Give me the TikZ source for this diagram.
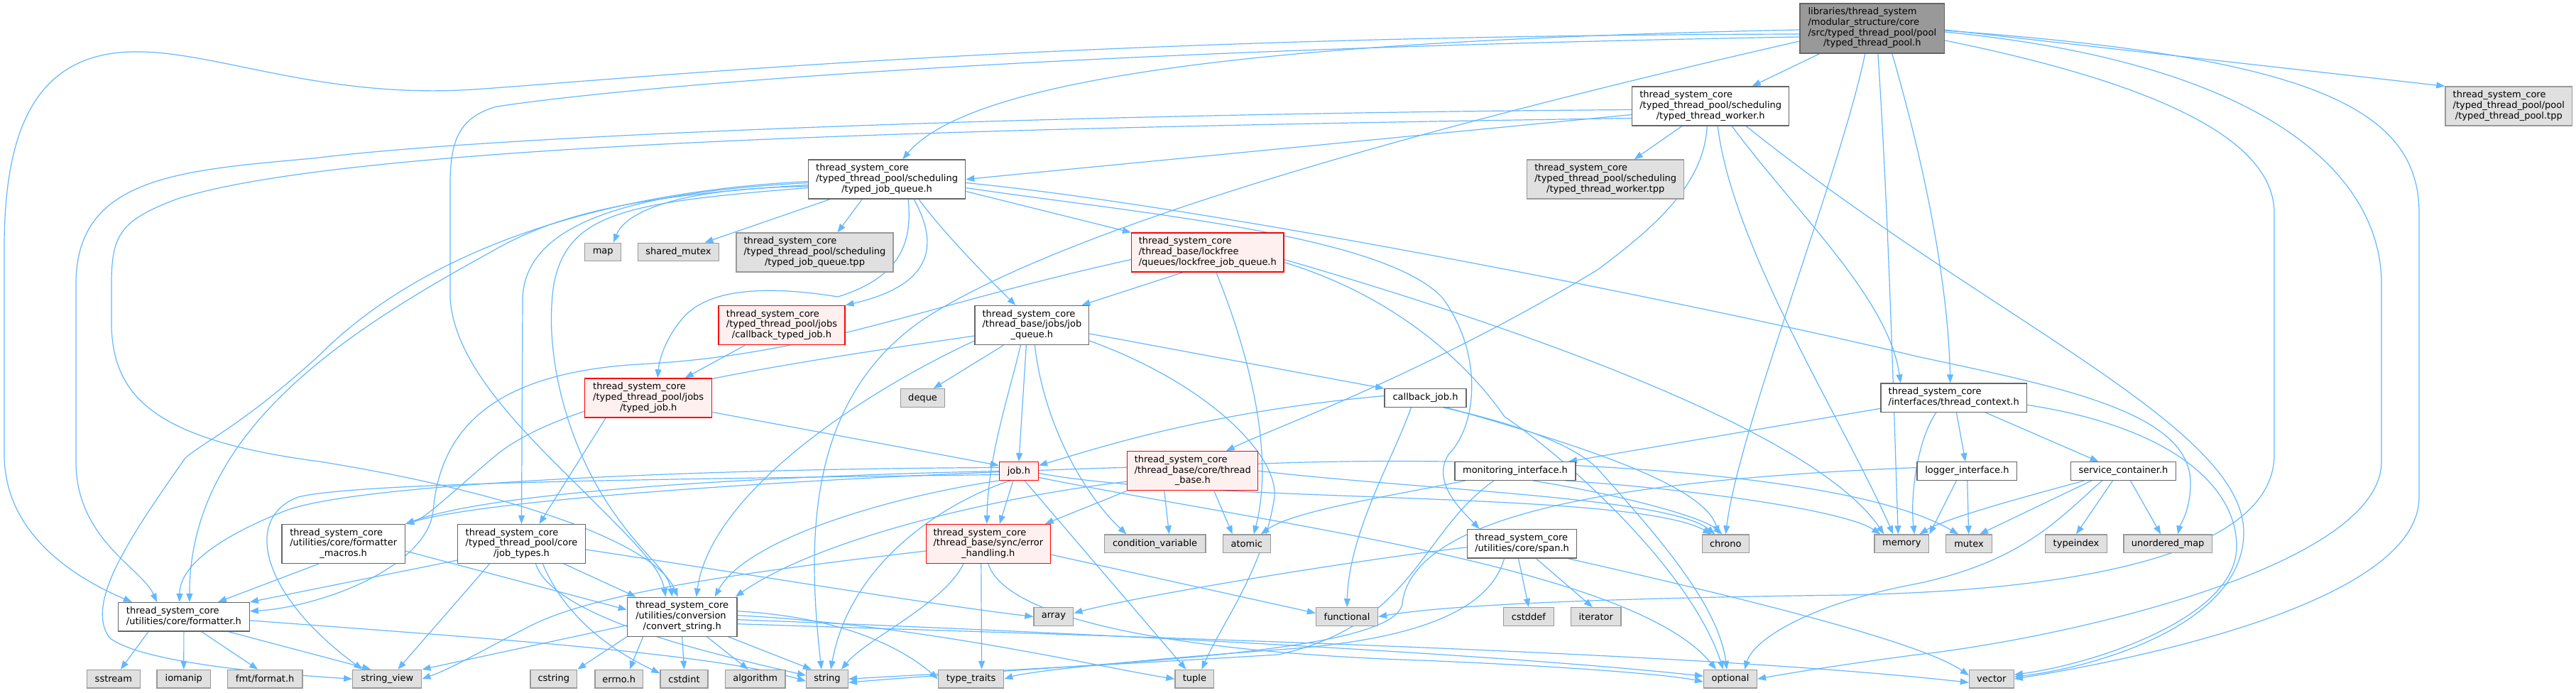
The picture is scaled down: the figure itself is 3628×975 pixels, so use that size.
\documentclass[tikz,border=0pt]{standalone}
\usepackage{fontspec}
\newfontfamily\dvs{DejaVu Sans}
\usetikzlibrary{arrows.meta}
\definecolor{edgec}{HTML}{63B8FF}
\definecolor{gsix}{HTML}{666666}
\definecolor{gnine}{HTML}{999999}
\definecolor{gext}{HTML}{E0E0E0}
\definecolor{rfill}{HTML}{FFF0F0}
\newcommand\twoL[2]{\begin{tabular}{@{}l@{}}#1\\\multicolumn{1}{@{}c@{}}{#2}\end{tabular}}
\newcommand\threeL[3]{\begin{tabular}{@{}l@{}}#1\\#2\\\multicolumn{1}{@{}c@{}}{#3}\end{tabular}}
\newcommand\fourL[4]{\begin{tabular}{@{}l@{}}#1\\#2\\#3\\\multicolumn{1}{@{}c@{}}{#4}\end{tabular}}
\pgfdeclarelayer{bg}
\pgfdeclarelayer{edges}
\pgfsetlayers{bg,edges,main}
\begin{document}
\begin{tikzpicture}[x=1pt,y=-1pt,
  nb/.style={draw=gsix, fill=white, line width=1.3pt, inner sep=0pt, font={\dvs\fontsize{13}{14.7}\selectfont}},
  xb/.style={nb, draw=gnine, fill=gext},
  rb/.style={nb, draw=red, fill=rfill},
  rootb/.style={nb, fill=gnine},
  bw/.style={minimum width=#1pt},
  bh/.style={minimum height=#1pt},
  dep/.style={draw=edgec, line width=1.2pt, -{Triangle[length=12pt,width=9pt]}}]
\begin{pgfonlayer}{bg}
\fill[white] (0,0) rectangle (3628,975);
\end{pgfonlayer}
\useasboundingbox (0,0) rectangle (3628,975);

% ---------- nodes ----------
\node[rootb,bw=203.5,bh=70] (root) at (2636.8,40) {\fourL{libraries/thread\_system}{/modular\_structure/core}{/src/typed\_thread\_pool/pool}{/typed\_thread\_pool.h}};
\node[nb,bw=221,bh=55] (ttw) at (2409.2,149.5) {\threeL{thread\_system\_core}{/typed\_thread\_pool/scheduling}{/typed\_thread\_worker.h}};
\node[xb,bw=178.6,bh=55] (ttptpp) at (3533.3,149.5) {\threeL{thread\_system\_core}{/typed\_thread\_pool/pool}{/typed\_thread\_pool.tpp}};
\node[nb,bw=221,bh=55] (tjq) at (1249.1,252.5) {\threeL{thread\_system\_core}{/typed\_thread\_pool/scheduling}{/typed\_job\_queue.h}};
\node[xb,bw=221,bh=55] (ttwtpp) at (2261.2,252.5) {\threeL{thread\_system\_core}{/typed\_thread\_pool/scheduling}{/typed\_thread\_worker.tpp}};
\node[xb,bw=51,bh=25.6] (map) at (849.2,355) {map};
\node[xb,bw=114,bh=25.6] (shmutex) at (955.5,355) {shared\_mutex};
\node[xb,bw=221,bh=55] (tjqtpp) at (1147.5,355.5) {\threeL{thread\_system\_core}{/typed\_thread\_pool/scheduling}{/typed\_job\_queue.tpp}};
\node[rb,bw=214.4,bh=55] (lfjq) at (1700.8,355.5) {\threeL{thread\_system\_core}{/thread\_base/lockfree}{/queues/lockfree\_job\_queue.h}};
\node[rb,bw=178,bh=55] (ctj) at (1101,458) {\threeL{thread\_system\_core}{/typed\_thread\_pool/jobs}{/callback\_typed\_job.h}};
\node[nb,bw=160.8,bh=55] (jq) at (1453.4,458) {\threeL{thread\_system\_core}{/thread\_base/jobs/job}{\_queue.h}};
\node[rb,bw=179,bh=55] (tj) at (913.2,560.5) {\threeL{thread\_system\_core}{/typed\_thread\_pool/jobs}{/typed\_job.h}};
\node[xb,bw=62,bh=25.6] (deque) at (1299.6,560.5) {deque};
\node[nb,bw=115,bh=25.6] (cbj) at (2007.5,560.5) {callback\_job.h};
\node[nb,bw=205.5,bh=40.5] (tctx) at (2751.7,560.3) {\twoL{thread\_system\_core}{/interfaces/thread\_context.h}};
\node[rb,bw=55,bh=25.6] (job) at (1434.9,663.5) {job.h};
\node[rb,bw=184,bh=55] (tb) at (1679.8,663.2) {\threeL{thread\_system\_core}{/thread\_base/core/thread}{\_base.h}};
\node[nb,bw=170,bh=25.6] (mon) at (2134,663.5) {monitoring\_interface.h};
\node[nb,bw=140.8,bh=25.6] (log) at (2770.4,663.5) {logger\_interface.h};
\node[nb,bw=148,bh=25.6] (svc) at (2990.5,663.5) {service\_container.h};
\node[nb,bw=173.5,bh=55] (fmac) at (483.7,766) {\threeL{thread\_system\_core}{/utilities/core/formatter}{\_macros.h}};
\node[nb,bw=179.4,bh=55] (jt) at (734.5,766) {\threeL{thread\_system\_core}{/typed\_thread\_pool/core}{/job\_types.h}};
\node[rb,bw=174.7,bh=55] (err) at (1391.8,766) {\threeL{thread\_system\_core}{/thread\_base/sync/error}{\_handling.h}};
\node[nb,bw=154.4,bh=40.5] (span) at (2143.6,765.8) {\twoL{thread\_system\_core}{/utilities/core/span.h}};
\node[xb,bw=142.7,bh=25.6] (condvar) at (1626.6,765.8) {condition\_variable};
\node[xb,bw=66.8,bh=25.6] (atomic) at (1755.8,765.8) {atomic};
\node[xb,bw=66.2,bh=25.6] (chrono) at (2430.3,765.8) {chrono};
\node[xb,bw=76.6,bh=25.6] (memory) at (2678.3,765.8) {memory};
\node[xb,bw=64.5,bh=25.6] (mutex) at (2773,765.8) {mutex};
\node[xb,bw=87,bh=25.6] (typeindex) at (2924,765.8) {typeindex};
\node[xb,bw=124.4,bh=25.6] (umap) at (3053.2,765.8) {unordered\_map};
\node[nb,bw=184.5,bh=40.5] (fmt) at (258.9,868.8) {\twoL{thread\_system\_core}{/utilities/core/formatter.h}};
\node[nb,bw=154.6,bh=55] (conv) at (960.7,868.7) {\threeL{thread\_system\_core}{/utilities/conversion}{/convert\_string.h}};
\node[xb,bw=55.7,bh=25.6] (array) at (1483.9,868.5) {array};
\node[xb,bw=87,bh=25.6] (functional) at (1897,868.5) {functional};
\node[xb,bw=70.8,bh=25.6] (cstddef) at (2152.9,868.5) {cstddef};
\node[xb,bw=70.2,bh=25.6] (iterator) at (2247.8,868.5) {iterator};
\node[xb,bw=74.8,bh=25.6] (sstream) at (159.9,956.2) {sstream};
\node[xb,bw=75.6,bh=25.6] (iomanip) at (258.8,956.2) {iomanip};
\node[xb,bw=105.6,bh=25.6] (fmtformat) at (373.2,956.2) {fmt/format.h};
\node[xb,bw=97,bh=25.6] (strview) at (545.3,956.2) {string\_view};
\node[xb,bw=65.6,bh=25.6] (cstring) at (779.8,956.2) {cstring};
\node[xb,bw=67.4,bh=25.6] (errno) at (871.7,956.2) {errno.h};
\node[xb,bw=67,bh=25.6] (cstdint) at (963.5,956.2) {cstdint};
\node[xb,bw=84.7,bh=25.6] (algorithm) at (1063.7,956.2) {algorithm};
\node[xb,bw=58.7,bh=25.6] (string) at (1165,956.2) {string};
\node[xb,bw=92.3,bh=25.6] (typetraits) at (1367.6,956.2) {type\_traits};
\node[xb,bw=54.7,bh=25.6] (tuple) at (1682.4,956.2) {tuple};
\node[xb,bw=74.8,bh=25.6] (optional) at (2437,956.2) {optional};
\node[xb,bw=62.7,bh=25.6] (vector) at (2804.8,956.2) {vector};

% ---------- edges ----------
\begin{pgfonlayer}{edges}
% root
\draw[dep] (root) -- (ttw);
\draw[dep] ([yshift=-2pt]root.east) -- (ttptpp.north west);
\draw[dep] ([yshift=-2pt]root.west) .. controls (1900,55) and (1380,95) .. ([xshift=22pt]tjq.north);
\draw[dep] ([yshift=-8pt]root.west) .. controls (1500,50) and (900,110) .. (667,126) .. controls (450,140) and (300,70) .. (186,73) .. controls (40,76) and (6,200) .. (6,350) -- (6,640) .. controls (6,760) and (120,820) .. ([xshift=-73pt]fmt.north);
\draw[dep] ([yshift=-12pt]root.west) .. controls (1500,70) and (900,120) .. (700,150) .. controls (645,165) and (634,200) .. (634,260) -- (634,420) .. controls (640,520) and (750,620) .. (830,700) .. controls (900,770) and (930,800) .. ([xshift=-23pt]conv.north);
\draw[dep] ([yshift=-18pt]root.west) .. controls (2000,180) and (1500,320) .. (1300,450) .. controls (1140,560) and (1135,750) .. ([xshift=-8pt]string.north);
\draw[dep] ([xshift=8pt]root.south) .. controls (2660,300) and (2668,600) .. ([xshift=-5pt]memory.north);
\draw[dep] ([xshift=-10pt]root.south) .. controls (2590,250) and (2450,600) .. (chrono.north);
\draw[dep] ([xshift=28pt]root.south) .. controls (2730,300) and (2745,450) .. ([xshift=-5pt]tctx.north);
\draw[dep] ([yshift=-17pt]root.east) .. controls (3050,120) and (3203,200) .. (3203,300) -- (3203,640) .. controls (3203,760) and (3000,830) .. (2600,838) .. controls (2300,842) and (2050,850) .. (functional.east);
\draw[dep] ([yshift=-5pt]root.east) .. controls (3200,90) and (3354,250) .. (3354,400) -- (3354,650) .. controls (3354,800) and (2900,900) .. (2700,922) .. controls (2600,935) and (2520,948) .. (optional.east);
\draw[dep] ([yshift=-3pt]root.east) .. controls (3250,80) and (3407,150) .. (3407,300) -- (3407,700) .. controls (3407,850) and (3000,930) .. (vector.east);
% ttw
\draw[dep] (ttw) -- (ttwtpp);
\draw[dep] ([yshift=-12pt]ttw.west) -- (tjq.east);
\draw[dep] ([yshift=-5pt]ttw.west) .. controls (1500,160) and (700,190) .. (441,223) .. controls (250,240) and (107,250) .. (107,400) -- (107,650) .. controls (107,760) and (200,800) .. ([xshift=-38pt]fmt.north);
\draw[dep] ([yshift=-17pt]ttw.west) .. controls (1400,180) and (500,200) .. (250,280) .. controls (170,310) and (157,330) .. (157,400) -- (157,460) .. controls (160,560) and (220,620) .. (450,650) .. controls (700,690) and (920,760) .. ([xshift=-6pt]conv.north);
\draw[dep] ([xshift=-5pt]ttw.south) .. controls (2400,260) and (2330,320) .. (2250,380) .. controls (2000,530) and (1800,600) .. ([xshift=47pt]tb.north);
\draw[dep] ([xshift=10pt]ttw.south) .. controls (2440,350) and (2600,600) .. ([xshift=-12pt]memory.north);
\draw[dep] ([xshift=30pt]ttw.south) .. controls (2530,300) and (2660,420) .. ([xshift=-75pt]tctx.north);
\draw[dep] ([xshift=50pt]ttw.south) .. controls (2800,450) and (3160,600) .. (3160,750) .. controls (3160,880) and (2950,940) .. ([yshift=3pt]vector.east);
% tjq
\draw[dep] ([yshift=-10pt]tjq.west) .. controls (950,265) and (880,300) .. ([xshift=15pt]map.north);
\draw[dep] ([xshift=-80pt]tjq.south) -- ([xshift=37pt]shmutex.north);
\draw[dep] ([xshift=-35pt]tjq.south) -- ([xshift=32pt]tjqtpp.north);
\draw[dep] ([xshift=38pt]tjq.south) .. controls (1320,340) and (1320,400) .. (ctj.north east);
\draw[dep] ([xshift=30pt]tjq.south) .. controls (1285,340) and (1270,390) .. (1180,418) .. controls (1100,405) and (1000,400) .. (960,450) .. controls (935,480) and (928,510) .. ([xshift=13pt]tj.north);
\draw[dep] ([xshift=45pt]tjq.south) .. controls (1330,330) and (1400,400) .. ([xshift=-23pt]jq.north);
\draw[dep] ([yshift=-17pt]tjq.east) -- (lfjq.north west);
\draw[dep] ([yshift=-5pt]tjq.west) .. controls (900,270) and (740,310) .. (736,420) -- (jt.north);
\draw[dep] ([yshift=-8pt]tjq.west) .. controls (900,275) and (790,300) .. (700,350) .. controls (500,460) and (267,600) .. ([xshift=8pt]fmt.north);
\draw[dep] ([yshift=-12pt]tjq.west) .. controls (880,285) and (800,300) .. (780,400) .. controls (765,500) and (800,620) .. (850,700) .. controls (900,780) and (940,800) .. ([xshift=-14pt]conv.north);
\draw[dep] ([yshift=-3pt]tjq.west) .. controls (850,270) and (600,350) .. (450,500) .. controls (340,600) and (290,620) .. (261,645) .. controls (180,760) and (120,850) .. (154,898) .. controls (200,935) and (400,950) .. (strview.west);
\draw[dep] ([yshift=-5pt]tjq.east) .. controls (1700,290) and (2400,430) .. (2700,502) .. controls (2900,545) and (3085,580) .. (3085,680) .. controls (3085,720) and (3070,740) .. ([xshift=14pt]umap.north);
\draw[dep] ([yshift=-12pt]tjq.east) .. controls (1600,300) and (1950,330) .. (2032,420) .. controls (2090,500) and (2080,600) .. (2040,640) .. controls (2015,680) and (2060,720) .. ([xshift=-60pt]span.north);
% lfjq
\draw[dep] ([xshift=-35pt]lfjq.south) -- ([xshift=70pt]jq.north);
\draw[dep] ([xshift=12pt]lfjq.south) .. controls (1760,500) and (1795,640) .. ([xshift=10pt]atomic.north);
\draw[dep] ([yshift=-10pt]lfjq.west) .. controls (1300,430) and (1150,500) .. (900,513) .. controls (700,525) and (620,600) .. (610,720) .. controls (600,800) and (450,855) .. ([yshift=8pt]fmt.east);
\draw[dep] ([yshift=-10pt]lfjq.east) .. controls (2100,450) and (2550,600) .. ([xshift=-25pt]memory.north);
\draw[dep] ([yshift=-14pt]lfjq.east) .. controls (1974,420) and (2073,520) .. (2119,587) .. controls (2200,640) and (2380,800) .. ([xshift=-10pt]optional.north);
% ctj, tj
\draw[dep] (ctj) -- (tj);
\draw[dep] ([yshift=-20pt]tj.east) -- ([yshift=8pt]job.west);
\draw[dep] ([xshift=-60pt]tj.south) -- ([xshift=25pt]jt.north);
% jq
\draw[dep] ([xshift=-40pt]jq.south) -- ([xshift=15pt]deque.north);
\draw[dep] ([xshift=-8pt]jq.south) -- (job.north);
\draw[dep] ([xshift=-16pt]jq.south) .. controls (1420,560) and (1392,640) .. ([xshift=-2pt]err.north);
\draw[dep] ([yshift=-12pt]jq.east) -- (cbj.north west);
\draw[dep] ([xshift=4pt]jq.south) .. controls (1470,600) and (1530,700) .. ([xshift=-40pt]condvar.north);
\draw[dep] ([yshift=-22pt]jq.east) .. controls (1700,540) and (1800,640) .. (1795,700) .. controls (1780,800) and (1720,880) .. ([xshift=10pt]tuple.north);
\draw[dep] ([yshift=-15pt]jq.west) .. controls (1050,520) and (800,560) .. (700,640) .. controls (640,690) and (600,730) .. (fmac.north east);
\draw[dep] ([yshift=-22pt]jq.west) .. controls (1200,560) and (1000,700) .. ([xshift=20pt]conv.north);
% cbj
\draw[dep] ([yshift=3pt]cbj.west) .. controls (1700,580) and (1550,630) .. ([yshift=8pt]job.east);
\draw[dep] ([xshift=-20pt]cbj.south) .. controls (1960,650) and (1900,750) .. (functional.north);
\draw[dep] ([xshift=30pt]cbj.south) .. controls (2200,620) and (2400,680) .. ([xshift=-10pt]chrono.north);
\draw[dep] ([xshift=25pt]cbj.south) .. controls (2150,600) and (2220,630) .. (2250,660) .. controls (2330,750) and (2420,850) .. ([xshift=-5pt]optional.north);
% job
\draw[dep] ([xshift=-8pt]job.south) -- ([xshift=16pt]err.north);
\draw[dep] ([yshift=5pt]job.west) .. controls (1000,660) and (500,680) .. (400,720) .. controls (300,760) and (253,800) .. ([xshift=-6pt]fmt.north);
\draw[dep] (job.west) .. controls (1100,670) and (700,690) .. (fmac.north east);
\draw[dep] (job.south west) .. controls (1250,700) and (1050,760) .. ([xshift=46pt]conv.north);
\draw[dep] ([xshift=-12pt]job.south) .. controls (1350,700) and (1200,780) .. ([xshift=5pt]string.north);
\draw[dep] ([xshift=8pt]job.south) -- ([xshift=-12pt]tuple.north);
\draw[dep] ([yshift=-3pt]job.east) .. controls (1700,710) and (2300,690) .. ([xshift=-20pt]chrono.north);
\draw[dep] ([yshift=-9pt]job.east) .. controls (1800,740) and (2300,800) .. ([xshift=-20pt]optional.north);
\draw[dep] ([yshift=-5pt]job.west) .. controls (900,675) and (500,680) .. (420,700) .. controls (340,730) and (370,840) .. ([xshift=-35pt]strview.north);
% tb
\draw[dep] (tb.south west) -- ([xshift=80pt]err.north);
\draw[dep] ([xshift=-40pt]tb.south) -- ([xshift=20pt]condvar.north);
\draw[dep] ([xshift=30pt]tb.south) -- ([xshift=-20pt]atomic.north);
\draw[dep] ([yshift=-15pt]tb.west) .. controls (1400,700) and (1150,760) .. ([xshift=75pt]conv.north);
\draw[dep] ([yshift=5pt]tb.west) .. controls (1200,670) and (700,700) .. (fmac.north east);
\draw[dep] ([yshift=10pt]tb.east) .. controls (2100,640) and (2600,660) .. ([xshift=-15pt]mutex.north);
\draw[dep] (tb.east) .. controls (2000,690) and (2350,700) .. ([xshift=-15pt]chrono.north);
% mon
\draw[dep] ([xshift=-70pt]mon.south) .. controls (1950,700) and (1820,720) .. ([xshift=20pt]atomic.north);
\draw[dep] ([xshift=25pt]mon.south) .. controls (2300,700) and (2400,730) .. ([xshift=-5pt]chrono.north);
\draw[dep] ([xshift=70pt]mon.south) .. controls (2400,690) and (2600,720) .. ([xshift=-30pt]memory.north);
\draw[dep] ([xshift=-30pt]mon.south) .. controls (2000,750) and (1992,880) .. (1800,922) .. controls (1500,940) and (1300,950) .. (string.east);
% tctx
\draw[dep] ([yshift=-15pt]tctx.west) -- ([xshift=75pt]mon.north);
\draw[dep] (tctx) -- (log);
\draw[dep] ([xshift=45pt]tctx.south) -- ([xshift=-35pt]svc.north);
\draw[dep] ([xshift=-25pt]tctx.south) .. controls (2700,620) and (2690,700) .. ([xshift=18pt]memory.north);
\draw[dep] ([yshift=-10pt]tctx.east) .. controls (3050,600) and (3150,680) .. (3150,770) .. controls (3150,870) and (2950,935) .. ([yshift=6pt]vector.east);
% log
\draw[dep] ([xshift=-15pt]log.south) -- (memory.north east);
\draw[dep] (log) -- (mutex);
\draw[dep] ([yshift=5pt]log.west) .. controls (2300,675) and (1990,720) .. (1975,850) .. controls (1965,925) and (1500,935) .. ([yshift=-5pt]string.east);
% svc
\draw[dep] ([xshift=-55pt]svc.south) .. controls (2850,700) and (2740,730) .. ([xshift=25pt]memory.north);
\draw[dep] ([xshift=-45pt]svc.south) -- ([xshift=15pt]mutex.north);
\draw[dep] ([xshift=-15pt]svc.south) -- (typeindex.north);
\draw[dep] ([xshift=10pt]svc.south) -- ([xshift=-10pt]umap.north);
\draw[dep] ([xshift=-30pt]svc.south) .. controls (2900,730) and (2850,790) .. (2700,822) .. controls (2550,850) and (2470,900) .. ([xshift=20pt]optional.north);
% fmac
\draw[dep] ([xshift=-35pt]fmac.south) -- ([xshift=48pt]fmt.north);
\draw[dep] ([yshift=-10pt]fmac.east) -- ([yshift=10pt]conv.west);
% jt
\draw[dep] ([yshift=-23pt]jt.west) -- (fmt.north east);
\draw[dep] ([xshift=-45pt]jt.south) -- ([xshift=15pt]strview.north);
\draw[dep] ([xshift=60pt]jt.south) -- ([xshift=-65pt]conv.north);
\draw[dep] ([xshift=30pt]jt.south) .. controls (800,880) and (880,925) .. ([yshift=8pt]cstdint.west);
\draw[dep] ([xshift=20pt]jt.south) .. controls (780,870) and (1000,920) .. ([yshift=5pt]string.west);
\draw[dep] ([yshift=-8pt]jt.east) .. controls (1000,800) and (1300,850) .. (array.west);
% err
\draw[dep] ([xshift=-35pt]err.south) .. controls (1330,850) and (1220,900) .. ([xshift=20pt]string.north);
\draw[dep] ([xshift=-10pt]err.south) -- ([xshift=15pt]typetraits.north);
\draw[dep] (err.south) .. controls (1420,880) and (1700,920) .. (2000,930) .. controls (2200,938) and (2350,950) .. ([yshift=-4pt]optional.west);
\draw[dep] ([yshift=-15pt]err.east) -- ([yshift=5pt]functional.west);
\draw[dep] ([yshift=-10pt]err.west) .. controls (1100,800) and (850,830) .. (750,880) .. controls (680,915) and (640,940) .. (strview.east);
% span
\draw[dep] ([xshift=-5pt]span.south) -- (cstddef.north);
\draw[dep] ([xshift=20pt]span.south) -- ([xshift=-5pt]iterator.north);
\draw[dep] ([yshift=-5pt]span.west) .. controls (1900,790) and (1600,840) .. ([yshift=5pt]array.east);
\draw[dep] ([xshift=-25pt]span.south) .. controls (2100,850) and (2020,900) .. (1800,915) .. controls (1600,930) and (1450,945) .. (typetraits.east);
\draw[dep] ([xshift=65pt]span.south) .. controls (2400,830) and (2700,900) .. ([yshift=5pt]vector.west);
% fmt
\draw[dep] ([xshift=-50pt]fmt.south) -- ([xshift=10pt]sstream.north);
\draw[dep] (fmt.south) -- (iomanip.north);
\draw[dep] ([xshift=25pt]fmt.south) -- ([xshift=-10pt]fmtformat.north);
\draw[dep] ([xshift=63pt]fmt.south) -- ([xshift=-23pt]strview.north);
\draw[dep] ([yshift=-5pt]fmt.east) .. controls (700,900) and (1000,920) .. ([yshift=-3pt]string.west);
% conv
\draw[dep] (conv.south west) -- (cstring.north east);
\draw[dep] ([xshift=-55pt]conv.south) -- ([xshift=15pt]errno.north);
\draw[dep] (conv.south) -- (cstdint.north);
\draw[dep] ([xshift=35pt]conv.south) -- ([xshift=-10pt]algorithm.north);
\draw[dep] ([xshift=65pt]conv.south) -- ([xshift=-22pt]string.north);
\draw[dep] ([yshift=-12pt]conv.west) -- (strview.north east);
\draw[dep] ([yshift=8pt]conv.east) .. controls (1200,870) and (1280,920) .. (typetraits.west);
\draw[dep] ([yshift=2pt]conv.east) .. controls (1300,880) and (1550,940) .. (tuple.west);
\draw[dep] ([yshift=-4pt]conv.east) .. controls (1500,890) and (2100,920) .. ([yshift=4pt]optional.west);
\draw[dep] ([yshift=-10pt]conv.east) .. controls (1700,900) and (2400,920) .. ([yshift=-5pt]vector.west);
\end{pgfonlayer}
\end{tikzpicture}
\end{document}
